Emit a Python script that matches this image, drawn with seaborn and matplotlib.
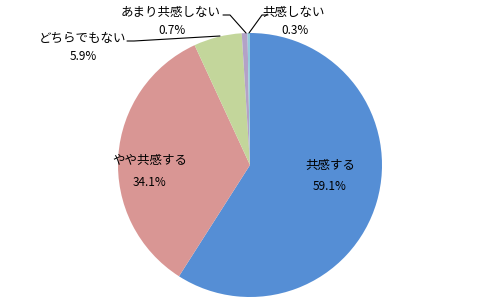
import matplotlib
matplotlib.use("Agg")
import matplotlib.pyplot as plt
import seaborn as sns

categories = ["共感する", "やや共感する", "どちらでもない", "あまり共感しない", "共感しない"]
values = [59.1, 34.1, 5.9, 0.7, 0.3]
colors = ["#558ED5", "#D99694", "#C3D69B", "#B3A2C7", "#93CDDD"]

sns.set_theme(style="white")
plt.rcParams['font.family'] = ['Noto Sans CJK JP', 'DejaVu Sans']

fig = plt.figure(figsize=(5, 3), dpi=100)
ax = fig.add_axes([0, 0, 1, 1])
H = 300
cx, cy, r = 250, H - 165, 132
ax.pie(values, colors=colors, startangle=90, counterclock=False,
       center=(cx, cy), radius=r, wedgeprops=dict(linewidth=0))
ax.set_xlim(0, 500)
ax.set_ylim(0, 300)
ax.set_aspect('equal')
ax.axis('off')

# label positions (pixels)
label_pos = [(330, 165), (150, 160), (83, 38), (171, 12), (294, 12)]
pct_pos = [(330, 187), (150, 182), (83, 57), (172, 31), (295, 31)]
for cat, v, (lx, ly), (px, py) in zip(categories, values, label_pos, pct_pos):
    ax.text(lx, H - ly, cat, ha='center', va='center', fontsize=9, color='black')
    ax.text(px, H - py, f"{v}%", ha='center', va='center', fontsize=8.5, color='black')

# leader lines
lines = [
    [(127, 41), (134, 41), (220, 36)],
    [(223, 15), (230, 15), (246, 33)],
    [(268, 15), (262, 15), (249, 33)],
]
for pts in lines:
    xs = [p[0] for p in pts]
    ys = [H - p[1] for p in pts]
    ax.plot(xs, ys, color='black', linewidth=0.8)

fig.savefig("out.png", dpi=100)
